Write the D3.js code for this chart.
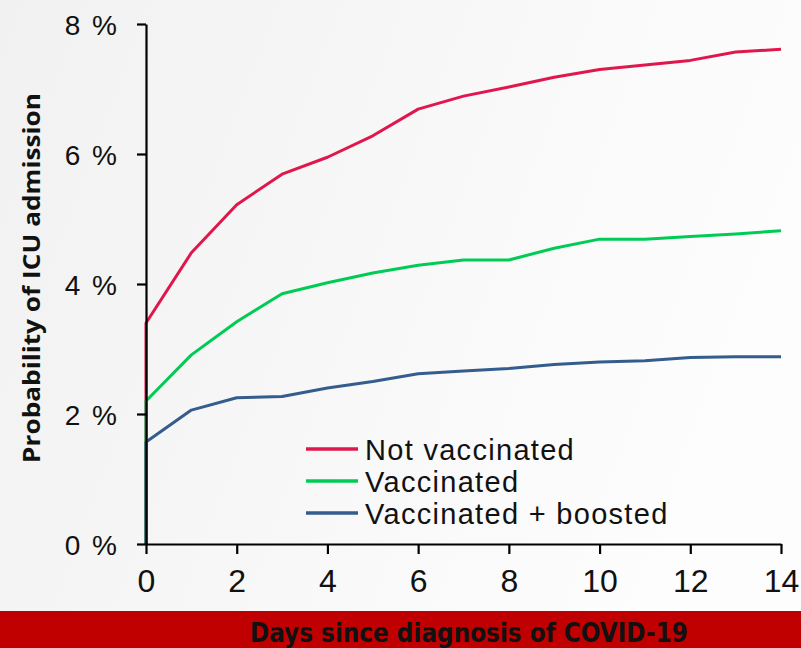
<!DOCTYPE html>
<html>
<head>
<meta charset="utf-8">
<script src="https://cdn.jsdelivr.net/npm/d3@7"></script>
<style>
  body { margin: 0; background: #fff; }
  svg { display: block; }
</style>
</head>
<body>
<svg id="chart" width="801" height="648"></svg>
<script>
// days since diagnosis
var days = [0, 1, 2, 3, 4, 5, 6, 7, 8, 9, 10, 11, 12, 13, 14];

// cumulative probability of ICU admission (%)
var notVaccinated = [3.40, 4.48, 5.22, 5.69, 5.95, 6.28, 6.69, 6.89, 7.03, 7.18, 7.30, 7.37, 7.44, 7.57, 7.61];
var vaccinated    = [2.20, 2.91, 3.42, 3.85, 4.02, 4.17, 4.29, 4.37, 4.37, 4.55, 4.69, 4.69, 4.73, 4.77, 4.82];
var boosted       = [1.57, 2.06, 2.25, 2.27, 2.40, 2.50, 2.62, 2.66, 2.70, 2.76, 2.80, 2.82, 2.87, 2.88, 2.88];

var seriesNames = ["Not vaccinated", "Vaccinated", "Vaccinated + boosted"];
var xTicks = [0, 2, 4, 6, 8, 10, 12, 14];
var yTicks = [0, 2, 4, 6, 8];

var colors = ["#e0174d", "#00cc55", "#345c8c"];

var svg = d3.select("#chart");

// background gradient
var defs = svg.append("defs");
var grad = defs.append("linearGradient").attr("id", "bg")
    .attr("x1", "0").attr("y1", "0").attr("x2", "1").attr("y2", "0.3");
grad.append("stop").attr("offset", "0").attr("stop-color", "#f1f1f1");
grad.append("stop").attr("offset", "1").attr("stop-color", "#fdfdfd");

svg.append("rect").attr("width", 801).attr("height", 648).attr("fill", "url(#bg)");

var x = d3.scaleLinear().domain([0, 14]).range([146, 781]);
var y = d3.scaleLinear().domain([0, 8]).range([544, 24]);

// lines: each curve starts at 0 on day 0
var line = d3.line()
    .x(d => x(d[0]))
    .y(d => y(d[1]));

var allSeries = [notVaccinated, vaccinated, boosted];

allSeries.forEach(function(vals, i) {
    var pts = [[0, 0]].concat(days.map((d, j) => [d, vals[j]]));
    svg.append("path")
        .datum(pts)
        .attr("d", line)
        .attr("fill", "none")
        .attr("stroke", colors[i])
        .attr("stroke-width", 3)
        .attr("stroke-linejoin", "round");
});

// y axis
var yAxis = svg.append("g")
    .attr("transform", "translate(146,0)")
    .call(d3.axisLeft(y).tickValues(yTicks).tickSize(9).tickSizeOuter(0)
        .tickFormat(d => d + " %"));

// x axis
var xAxis = svg.append("g")
    .attr("transform", "translate(0,544)")
    .call(d3.axisBottom(x).tickValues(xTicks).tickSize(10).tickSizeOuter(0));

[yAxis, xAxis].forEach(function(a) {
    a.select(".domain").attr("stroke", "#000").attr("stroke-width", 2.2);
    a.selectAll(".tick line").attr("stroke", "#000").attr("stroke-width", 2.2);
    a.selectAll("text").attr("fill", "#111")
        .style("font-family", "'Liberation Sans', Arial, sans-serif");
});

yAxis.selectAll(".tick text")
    .style("font-size", "28px")
    .style("letter-spacing", "2px")
    .attr("x", -27)
    .attr("dy", "0.36em");

xAxis.selectAll(".tick text")
    .style("font-size", "32px")
    .attr("y", 25)
    .attr("dy", "0.71em");

// y axis title
svg.append("text")
    .attr("transform", "translate(40,278) rotate(-90)")
    .attr("text-anchor", "middle")
    .attr("textLength", 370)
    .attr("lengthAdjust", "spacingAndGlyphs")
    .style("font-family", "'Open Sans', sans-serif")
    .style("font-weight", "bold")
    .style("font-size", "23px")
    .attr("fill", "#111")
    .text("Probability of ICU admission");

// bottom red band with x title
svg.append("rect")
    .attr("x", 0).attr("y", 611)
    .attr("width", 801).attr("height", 37)
    .attr("fill", "#c00000");

svg.append("text")
    .attr("x", 469).attr("y", 642)
    .attr("text-anchor", "middle")
    .attr("textLength", 438)
    .attr("lengthAdjust", "spacingAndGlyphs")
    .style("font-family", "'Liberation Sans Narrow', 'DejaVu Sans Condensed', sans-serif")
    .style("font-weight", "bold")
    .style("font-size", "27px")
    .attr("fill", "#111")
    .text("Days since diagnosis of COVID-19");

// legend
var legend = svg.append("g").attr("transform", "translate(306,449)");
seriesNames.forEach(function(name, i) {
    var g = legend.append("g").attr("transform", "translate(0," + (i * 32) + ")");
    g.append("line")
        .attr("x1", 0).attr("x2", 52)
        .attr("y1", 0).attr("y2", 0)
        .attr("stroke", colors[i])
        .attr("stroke-width", 3.5);
    g.append("text")
        .attr("x", 59).attr("y", 11)
        .style("font-family", "'Liberation Sans', Arial, sans-serif")
        .style("font-size", "29px")
        .style("letter-spacing", "1.3px")
        .attr("fill", "#111")
        .text(name);
});
</script>
</body>
</html>
